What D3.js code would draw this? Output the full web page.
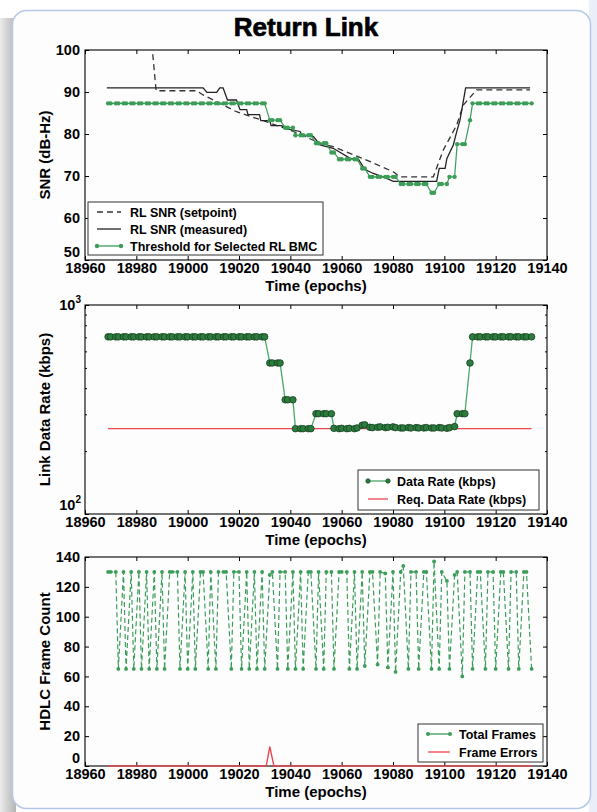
<!DOCTYPE html>
<html>
<head>
<meta charset="utf-8">
<script src="https://cdn.jsdelivr.net/npm/d3@7"></script>
<style>
  body { margin: 0; background: #fff; }
  svg { display: block; font-family: "Liberation Sans", Arial, sans-serif; }
</style>
</head>
<body>
<svg id="chart" width="597" height="812"></svg>
<script>
// sample epochs shared by the green series and the frame counts
var epochs = [18969, 18970, 18972, 18973, 18975, 18976, 18978, 18979, 18981, 18982, 18984, 18985, 18987, 18988,
    18990, 18991, 18993, 18994, 18996, 18997, 18999, 19000, 19002, 19003, 19005, 19006, 19008, 19009, 19011, 19012,
    19014, 19015, 19017, 19018, 19020, 19021, 19023, 19024, 19026, 19027, 19029, 19030, 19032, 19033, 19035, 19036,
    19038, 19039, 19041, 19042, 19044, 19045, 19047, 19048, 19050, 19051, 19053, 19054, 19056, 19057, 19059, 19060,
    19062, 19063, 19065, 19066, 19068, 19069, 19071, 19072, 19074, 19075, 19077, 19078, 19080, 19081, 19083, 19084,
    19086, 19087, 19089, 19090, 19092, 19093, 19095, 19096, 19098, 19099, 19101, 19102, 19104, 19105, 19107, 19108,
    19110, 19111, 19113, 19114, 19116, 19117, 19119, 19120, 19122, 19123, 19125, 19126, 19128, 19129, 19131, 19132, 19134];

// panel 1: SNR
var setpointEpochs = [18986.4, 18987.7, 19003.5, 19006, 19011.3, 19019, 19030.8, 19041.2, 19051.6, 19056.7, 19069.7,
    19080.1, 19082.7, 19095.7, 19099.6, 19104.8, 19107.4, 19112.6, 19133.4];
var setpointSnr = [99.0, 90.3, 90.3, 89.3, 87.7, 85.3, 82.9, 80.6, 77.8, 77.0, 73.8,
    71.0, 69.8, 69.8, 76.2, 82.1, 86.9, 90.5, 90.5];
var measuredEpochs = [18968.5, 19006, 19007.5, 19011.3, 19012.5, 19013.8, 19015.5, 19019, 19020.4, 19023, 19023.5,
    19028, 19028.5, 19032, 19032.5, 19036.6, 19038.6, 19043.8, 19044.5, 19049, 19051.6, 19056.7, 19063.3, 19066.5,
    19069, 19072.3, 19076.2, 19080.1, 19097, 19098, 19100.3, 19101, 19103.5, 19104.8, 19106.1, 19108.3, 19133.4];
var measuredSnr = [91.0, 91.0, 89.9, 89.9, 91.0, 91.0, 88.1, 88.1, 85.8, 85.8, 84.6,
    84.6, 83.2, 83.2, 82.0, 82.0, 81.2, 80.6, 79.8, 79.4, 77.4, 76.6, 74.2, 74.0,
    71.6, 70.6, 69.8, 68.7, 68.7, 71.8, 71.8, 74.2, 77.4, 80.5, 83.3, 91.0, 91.0];
var thresholdSnr = [87.3, 87.3, 87.3, 87.3, 87.3, 87.3, 87.3, 87.3, 87.3, 87.3, 87.3, 87.3, 87.3, 87.3,
    87.3, 87.3, 87.3, 87.3, 87.3, 87.3, 87.3, 87.3, 87.3, 87.3, 87.3, 87.3, 87.3, 87.3, 87.3, 87.3,
    87.3, 87.3, 87.3, 87.3, 87.3, 87.3, 87.3, 87.3, 87.3, 87.3, 87.3, 87.3, 83.3, 83.3, 83.3, 83.3,
    81.5, 81.5, 81.5, 79.7, 79.7, 79.7, 79.7, 79.7, 77.8, 77.8, 77.8, 77.8, 75.6, 75.6, 74.0, 74.0,
    74.0, 74.0, 74.0, 74.0, 71.8, 71.8, 69.8, 69.8, 69.8, 69.8, 69.8, 69.8, 69.8, 69.8, 68.1, 68.1,
    68.1, 68.1, 68.1, 68.1, 68.1, 68.1, 66.0, 66.0, 68.1, 68.1, 68.1, 69.8, 69.8, 77.6, 77.6, 77.6,
    83.3, 87.3, 87.3, 87.3, 87.3, 87.3, 87.3, 87.3, 87.3, 87.3, 87.3, 87.3, 87.3, 87.3, 87.3, 87.3, 87.3];

// panel 2: data rate (kbps)
var dataRate = [704, 704, 704, 704, 704, 704, 704, 704, 704, 704, 704, 704, 704, 704,
    704, 704, 704, 704, 704, 704, 704, 704, 704, 704, 704, 704, 704, 704, 704, 704,
    704, 704, 704, 704, 704, 704, 704, 704, 704, 704, 704, 704, 528, 528, 528, 528,
    352, 352, 352, 256, 256, 256, 256, 256, 302, 302, 302, 302, 302, 257, 256, 257,
    256, 257, 256, 258, 266, 267, 260, 259, 260, 261, 259, 260, 261, 259, 258, 258,
    259, 258, 259, 258, 258, 259, 258, 258, 259, 258, 257, 259, 262, 302, 302, 302,
    528, 704, 704, 704, 704, 704, 704, 704, 704, 704, 704, 704, 704, 704, 704, 704, 704];
var reqEpochs = [18969, 19134];
var reqRate = [256, 256];

// panel 3: HDLC frames
var totalFrames = [130, 130, 130, 65, 130, 65, 130, 65, 130, 65, 130, 65, 130, 65,
    130, 65, 130, 130, 130, 65, 130, 65, 130, 65, 130, 130, 65, 130, 65, 130,
    130, 130, 65, 130, 130, 65, 130, 65, 130, 65, 130, 65, 128, 130, 65, 130,
    130, 65, 130, 65, 130, 65, 130, 130, 65, 130, 65, 130, 130, 65, 130, 130,
    130, 65, 130, 65, 130, 67, 130, 130, 68, 130, 129, 66, 130, 63, 130, 134,
    65, 130, 130, 65, 130, 130, 65, 137, 65, 130, 124, 65, 128, 130, 60, 130,
    130, 65, 130, 130, 65, 130, 130, 65, 130, 130, 65, 130, 130, 65, 130, 130, 65];
var errorEpochs = [18969, 19030.6, 19032, 19033.6, 19134];
var frameErrors = [0, 0, 13, 0, 0];

var snrTicks = [50, 60, 70, 80, 90, 100];
var frameTicks = [0, 20, 40, 60, 80, 100, 120, 140];
var timeTicks = [18960, 18980, 19000, 19020, 19040, 19060, 19080, 19100, 19120, 19140];

var width = 597, height = 812;
var left = 85, right = 547;
var fontSize = 14.5;
var green = "#3c9d58", darkGreen = "#2c7c3e", red = "#e8474f";

var svg = d3.select("#chart");
var defs = svg.append("defs");

// background card
var shadow = defs.append("linearGradient").attr("id", "shadow").attr("x1", "0%").attr("x2", "100%");
shadow.append("stop").attr("offset", "0%").style("stop-color", "#ececec");
shadow.append("stop").attr("offset", "100%").style("stop-color", "#b4b4b4");
svg.append("rect").attr("width", width).attr("height", height).attr("fill", "#fff");
svg.append("rect").attr("x", 0).attr("y", 18).attr("width", 16).attr("height", 794).attr("fill", "url(#shadow)");
svg.append("rect").attr("x", 589).attr("y", 0).attr("width", 8).attr("height", height).attr("fill", "#e9eef9");
svg.append("rect")
    .attr("x", 12.5).attr("y", 10.5).attr("width", 578).attr("height", 798).attr("rx", 14)
    .attr("fill", "#fdfdfe").attr("stroke", "#b6c8ea").attr("stroke-width", 1.5);

svg.append("text")
    .attr("x", 306).attr("y", 36)
    .attr("text-anchor", "middle")
    .style("font-size", "26px").style("font-weight", "bold")
    .attr("stroke", "#000").attr("stroke-width", 0.7)
    .text("Return Link");

var x = d3.scaleLinear().domain([18960, 19140]).range([left, right]);

function drawFrame(top, bottom, y, opts) {
    var g = svg.append("g");
    var id = "clip" + top;
    defs.append("clipPath").attr("id", id).append("rect")
        .attr("x", left).attr("y", top).attr("width", right - left).attr("height", bottom - top);

    // bottom axis with labels, top axis ticks only
    g.append("g").attr("transform", "translate(0," + bottom + ")")
        .call(d3.axisBottom(x).tickValues(timeTicks).tickFormat(d3.format("d")).tickSize(-4).tickPadding(3))
        .call(styleAxis);
    g.append("g").attr("transform", "translate(0," + top + ")")
        .call(d3.axisTop(x).tickValues(timeTicks).tickFormat("").tickSize(-4))
        .call(styleAxis);

    var yl = d3.axisLeft(y).tickSize(-4).tickPadding(5);
    var yr = d3.axisRight(y).tickSize(-4).tickFormat("");
    if (opts.ticks) { yl.tickValues(opts.ticks); yr.tickValues(opts.ticks); }
    if (opts.log) { yl.tickValues([100, 1000]).tickFormat(""); yr.tickValues([100, 1000]); }
    var gl = g.append("g").attr("transform", "translate(" + left + ",0)").call(yl).call(styleAxis);
    // lowest label sits just above the time labels
    gl.selectAll(".tick text").filter(function (d, i) { return i === 0; }).attr("dy", "-0.25em");

    g.append("g").attr("transform", "translate(" + right + ",0)").call(yr).call(styleAxis);

    if (opts.log) {
        var minor = [200, 300, 400, 500, 600, 700, 800, 900];
        g.append("g").attr("transform", "translate(" + left + ",0)")
            .call(d3.axisRight(y).tickValues(minor).tickSize(2).tickFormat("")).call(styleAxis);
        g.append("g").attr("transform", "translate(" + right + ",0)")
            .call(d3.axisLeft(y).tickValues(minor).tickSize(2).tickFormat("")).call(styleAxis);
        [[1000, "3", 5], [100, "2", -4]].forEach(function (p) {
            var t = g.append("text").attr("x", left - 4).attr("y", y(p[0]) + p[2])
                .attr("text-anchor", "end").style("font-size", fontSize + "px").style("font-weight", "bold");
            t.append("tspan").text("10");
            t.append("tspan").attr("dy", -7).style("font-size", "10px").text(p[1]);
        });
    }

    g.append("rect")
        .attr("x", left).attr("y", top).attr("width", right - left).attr("height", bottom - top)
        .attr("fill", "none").attr("stroke", "#000").attr("stroke-width", 1.1);

    g.append("text")
        .attr("x", (left + right) / 2).attr("y", bottom + 31)
        .attr("text-anchor", "middle")
        .style("font-size", "15px").style("font-weight", "bold")
        .text("Time (epochs)");
    g.append("text")
        .attr("transform", "translate(50," + (top + bottom) / 2 + ") rotate(-90)")
        .attr("text-anchor", "middle")
        .style("font-size", "15px").style("font-weight", "bold")
        .text(opts.title);
    return "url(#" + id + ")";
}

function styleAxis(a) {
    a.select(".domain").remove();
    a.selectAll(".tick line").attr("stroke", "#000");
    a.selectAll(".tick text").attr("fill", "#000")
        .style("font-size", fontSize + "px").style("font-weight", "bold")
        .style("font-family", "'Liberation Sans', Arial, sans-serif");
}

function series(xs, ys) {
    return xs.map(function (d, i) { return [d, ys[i]]; });
}

function legend(x0, y0, w, h, items) {
    var g = svg.append("g").attr("transform", "translate(" + x0 + "," + y0 + ")");
    g.append("rect").attr("width", w).attr("height", h)
        .attr("fill", "#fff").attr("stroke", "#333").attr("stroke-width", 1);
    items.forEach(function (it) {
        var yy = it.y;
        g.append("line").attr("x1", it.x1).attr("x2", it.x2).attr("y1", yy).attr("y2", yy)
            .attr("stroke", it.color).attr("stroke-width", it.width || 1.3)
            .attr("stroke-dasharray", it.dash || null);
        if (it.r) {
            [it.x1, it.x2].forEach(function (cx) {
                g.append("circle").attr("cx", cx).attr("cy", yy).attr("r", it.r)
                    .attr("fill", it.fill || it.color).attr("stroke", it.stroke || "none").attr("stroke-width", 0.7);
            });
        }
        g.append("text").attr("x", it.x2 + 9).attr("y", yy + 4.5)
            .style("font-size", "12.5px").style("font-weight", "bold")
            .text(it.label);
    });
}

// ---------- panel 1 ----------
var y1 = d3.scaleLinear().domain([50, 100]).range([260, 50]);
var clip1 = drawFrame(50, 260, y1, { ticks: snrTicks, title: "SNR (dB-Hz)" });
var line1 = d3.line().x(function (d) { return x(d[0]); }).y(function (d) { return y1(d[1]); });
var p1 = svg.append("g").attr("clip-path", clip1);
p1.append("path").datum(series(setpointEpochs, setpointSnr)).attr("d", line1)
    .attr("fill", "none").attr("stroke", "#333").attr("stroke-width", 1.3).attr("stroke-dasharray", "6,4");
p1.append("path").datum(series(measuredEpochs, measuredSnr)).attr("d", line1)
    .attr("fill", "none").attr("stroke", "#222").attr("stroke-width", 1.3);
var thr = series(epochs, thresholdSnr);
p1.append("path").datum(thr).attr("d", line1)
    .attr("fill", "none").attr("stroke", green).attr("stroke-width", 1.2);
p1.selectAll(".thr").data(thr).enter().append("circle")
    .attr("cx", function (d) { return x(d[0]); }).attr("cy", function (d) { return y1(d[1]); })
    .attr("r", 2.2).attr("fill", green);
legend(88, 202, 235, 53, [
    { y: 10, x1: 9, x2: 33, color: "#333", dash: "6,4", label: "RL SNR (setpoint)" },
    { y: 27, x1: 9, x2: 33, color: "#222", label: "RL SNR (measured)" },
    { y: 44, x1: 9, x2: 33, color: green, r: 2.2, label: "Threshold for Selected RL BMC" }
]);

// ---------- panel 2 ----------
var y2 = d3.scaleLog().domain([100, 1000]).range([514, 305]);
var clip2 = drawFrame(305, 514, y2, { log: true, title: "Link Data Rate (kbps)" });
var line2 = d3.line().x(function (d) { return x(d[0]); }).y(function (d) { return y2(d[1]); });
var p2 = svg.append("g").attr("clip-path", clip2);
p2.append("path").datum(series(reqEpochs, reqRate)).attr("d", line2)
    .attr("fill", "none").attr("stroke", red).attr("stroke-width", 1.2);
var rate = series(epochs, dataRate);
p2.append("path").datum(rate).attr("d", line2)
    .attr("fill", "none").attr("stroke", "#4aa968").attr("stroke-width", 1.3);
p2.selectAll(".rate").data(rate).enter().append("circle")
    .attr("cx", function (d) { return x(d[0]); }).attr("cy", function (d) { return y2(d[1]); })
    .attr("r", 3.3).attr("fill", darkGreen).attr("stroke", "#173f20").attr("stroke-width", 0.8);
legend(358, 470, 181, 40, [
    { y: 11, x1: 10, x2: 30, color: "#4aa968", r: 2.2, fill: darkGreen, stroke: "#173f20", label: "Data Rate (kbps)" },
    { y: 29, x1: 10, x2: 30, color: red, label: "Req. Data Rate (kbps)" }
]);

// ---------- panel 3 ----------
var y3 = d3.scaleLinear().domain([0, 140]).range([766, 557]);
var clip3 = drawFrame(557, 766, y3, { ticks: frameTicks, title: "HDLC Frame Count" });
var line3 = d3.line().x(function (d) { return x(d[0]); }).y(function (d) { return y3(d[1]); });
var p3 = svg.append("g");
var frames = series(epochs, totalFrames);
p3.append("path").datum(frames).attr("d", line3)
    .attr("fill", "none").attr("stroke", green).attr("stroke-width", 1.2).attr("stroke-dasharray", "5,3");
p3.selectAll(".frm").data(frames).enter().append("circle")
    .attr("cx", function (d) { return x(d[0]); }).attr("cy", function (d) { return y3(d[1]); })
    .attr("r", 1.9).attr("fill", green);
p3.append("path").datum(series(errorEpochs, frameErrors)).attr("d", line3)
    .attr("fill", "none").attr("stroke", red).attr("stroke-width", 1.4);
legend(418, 724, 125, 38, [
    { y: 10, x1: 10, x2: 32, color: green, r: 2, label: "Total Frames" },
    { y: 28, x1: 10, x2: 32, color: red, label: "Frame Errors" }
]);
</script>
</body>
</html>
